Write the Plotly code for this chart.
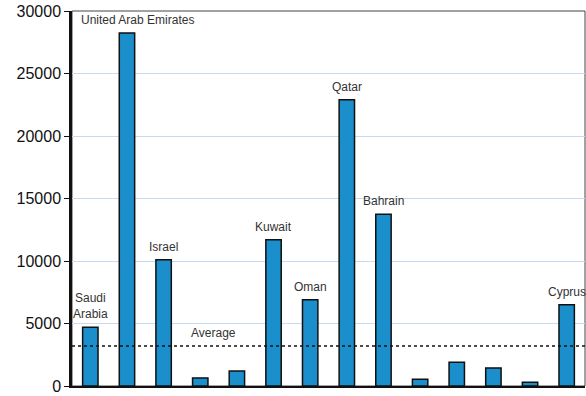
import plotly.graph_objects as go

countries = ["Saudi Arabia", "United Arab Emirates", "Israel", "Country 4", "Country 5",
             "Kuwait", "Oman", "Qatar", "Bahrain", "Country 10", "Country 11",
             "Country 12", "Country 13", "Cyprus"]
labels = ["Saudi<br>Arabia", "United Arab Emirates", "Israel", "", "",
          "Kuwait", "Oman", "Qatar", "Bahrain", "", "", "", "", "Cyprus"]
values = [4700, 28250, 10100, 650, 1200, 11700, 6900, 22900, 13750, 550, 1900, 1450, 300, 6500]
average = 3200
y_ticks = [0, 5000, 10000, 15000, 20000, 25000, 30000]

xs = list(range(len(countries)))

fig = go.Figure()
fig.add_trace(go.Bar(
    x=xs, y=values, width=0.42,
    marker=dict(color="#1a8fcb", line=dict(color="#111111", width=1.5)),
    hovertext=countries, showlegend=False,
))

label_font = dict(family="Liberation Sans Narrow, Arial Narrow, Liberation Sans, Arial", size=12, color="#333333")
for i, (lab, v) in enumerate(zip(labels, values)):
    if not lab:
        continue
    xshift = 11 if i == 1 else 0
    fig.add_annotation(x=i, y=v, text=lab, showarrow=False, yanchor="bottom",
                       yshift=4, xshift=xshift, font=label_font)

fig.add_shape(type="line", xref="paper", x0=0, x1=1, yref="y", y0=average, y1=average,
              line=dict(color="#111111", width=1.5, dash="dot"))
fig.add_annotation(x=3.35, y=average, text="Average", showarrow=False, yanchor="bottom",
                   yshift=4, font=label_font)

# frame top/right
fig.add_shape(type="rect", xref="paper", yref="paper", x0=0, x1=1, y0=0, y1=1,
              line=dict(color="#444444", width=1), layer="below")

fig.update_layout(
    width=586, height=396,
    margin=dict(l=72, r=1, t=11, b=6),
    plot_bgcolor="white", paper_bgcolor="white",
    bargap=0.58,
)
fig.update_xaxes(range=[-0.5, len(countries) - 0.5], showticklabels=False, showgrid=False,
                 showline=True, linecolor="#111111", linewidth=1.5, zeroline=False, ticks="")
fig.update_yaxes(range=[0, 30000], tickvals=y_ticks, ticktext=[str(t) for t in y_ticks],
                 showgrid=True, gridcolor="#c6dcf0", gridwidth=1,
                 showline=True, linecolor="#111111", linewidth=2.5,
                 ticks="outside", ticklen=5, tickcolor="#111111", tickwidth=1,
                 zeroline=False, ticklabeloverflow="allow",
                 tickfont=dict(family="Liberation Sans, Arial", size=16, color="#111111"))

fig.write_html("out.html", config={"displayModeBar": False},
               post_script="document.body.style.margin='0px';document.body.style.overflow='hidden';")
